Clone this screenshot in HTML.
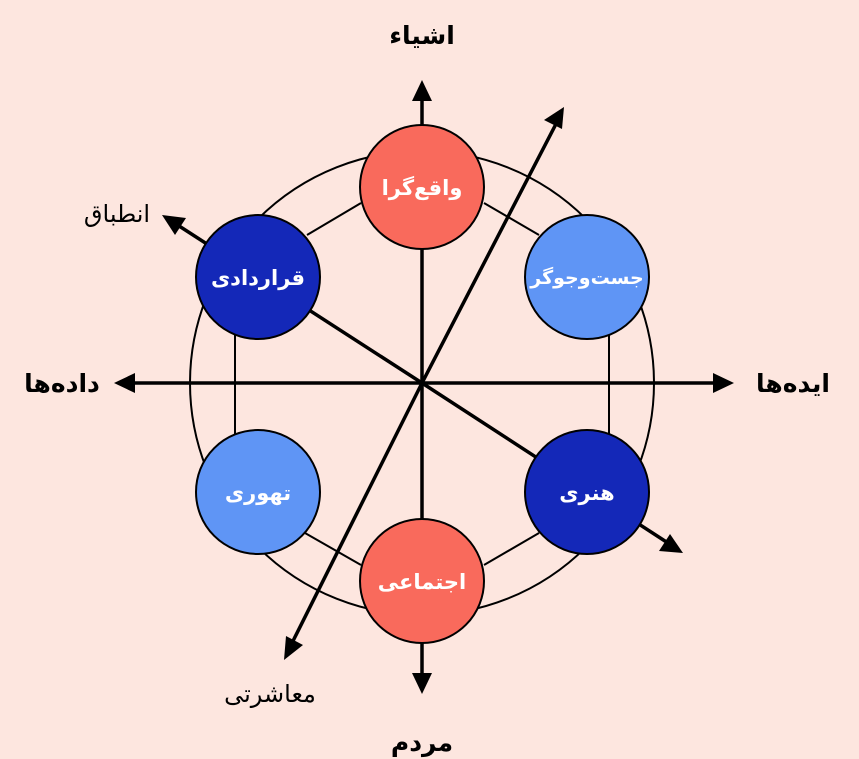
<!DOCTYPE html>
<html><head><meta charset="utf-8"><style>
html,body{margin:0;padding:0;background:#fde6df;}
svg{display:block}
text{font-family:"Liberation Sans","DejaVu Sans",sans-serif;}
</style></head><body>
<svg width="859" height="759" viewBox="0 0 859 759" xmlns="http://www.w3.org/2000/svg">
<rect width="859" height="759" fill="#fde6df"/>
<g stroke="#000" fill="none" stroke-width="2">
<circle cx="422" cy="383" r="232"/>
<line x1="307" y1="235" x2="361" y2="203"/>
<line x1="484" y1="203" x2="539" y2="235"/>
<line x1="305" y1="533" x2="361" y2="565"/>
<line x1="484" y1="565" x2="539" y2="533"/>
<line x1="235" y1="320" x2="235" y2="450"/>
<line x1="609" y1="320" x2="609" y2="450"/>
</g>
<g stroke="#000" stroke-width="3.5" fill="none">
<line x1="422" y1="383" x2="422" y2="100"/>
<line x1="422" y1="383" x2="422" y2="676"/>
<line x1="422" y1="383" x2="132" y2="383"/>
<line x1="422" y1="383" x2="716" y2="383"/>
<line x1="422" y1="383" x2="557" y2="122"/>
<line x1="422" y1="383" x2="291" y2="645"/>
<line x1="422" y1="383" x2="176" y2="224"/>
<line x1="422" y1="383" x2="668" y2="543"/>
</g>
<g fill="#000">
<path d="M422,80 L412,101 L432,101 z"/>
<path d="M422,694 L412,673 L432,673 z"/>
<path d="M114,383 L135,373 L135,393 z"/>
<path d="M734,383 L713,373 L713,393 z"/>
<path d="M564,107 L544,120 L562,129 z"/>
<path d="M284,660 L286,636 L303,645 z"/>
<path d="M162,215 L186,218 L175,235 z"/>
<path d="M683,553 L659,551 L670,534 z"/>
</g>
<g stroke="#000" stroke-width="2">
<circle cx="422" cy="187" r="62" fill="#f96a5c"/>
<circle cx="258" cy="277" r="62" fill="#1428b8"/>
<circle cx="587" cy="277" r="62" fill="#5f95f5"/>
<circle cx="258" cy="492" r="62" fill="#5f95f5"/>
<circle cx="587" cy="492" r="62" fill="#1428b8"/>
<circle cx="422" cy="581" r="62" fill="#f96a5c"/>
</g>
<g fill="#fff" font-weight="bold" font-size="21" text-anchor="middle" direction="rtl">
<text x="422" y="195">واقع‌گرا</text>
<text x="258" y="285">قراردادی</text>
<text x="587" y="284" font-size="19">جست‌وجوگر</text>
<text x="258" y="500">تهوری</text>
<text x="587" y="500">هنری</text>
<text x="422" y="589">اجتماعی</text>
</g>
<g fill="#000" font-size="25" font-weight="bold" text-anchor="middle" direction="rtl">
<text x="422" y="44">اشیاء</text>
<text x="422" y="751">مردم</text>
<text x="62" y="392">داده‌ها</text>
<text x="793" y="392">ایده‌ها</text>
</g>
<g fill="#000" font-size="24" text-anchor="middle" direction="rtl">
<text x="117" y="222">انطباق</text>
<text x="270" y="702">معاشرتی</text>
</g>
</svg>
</body></html>
